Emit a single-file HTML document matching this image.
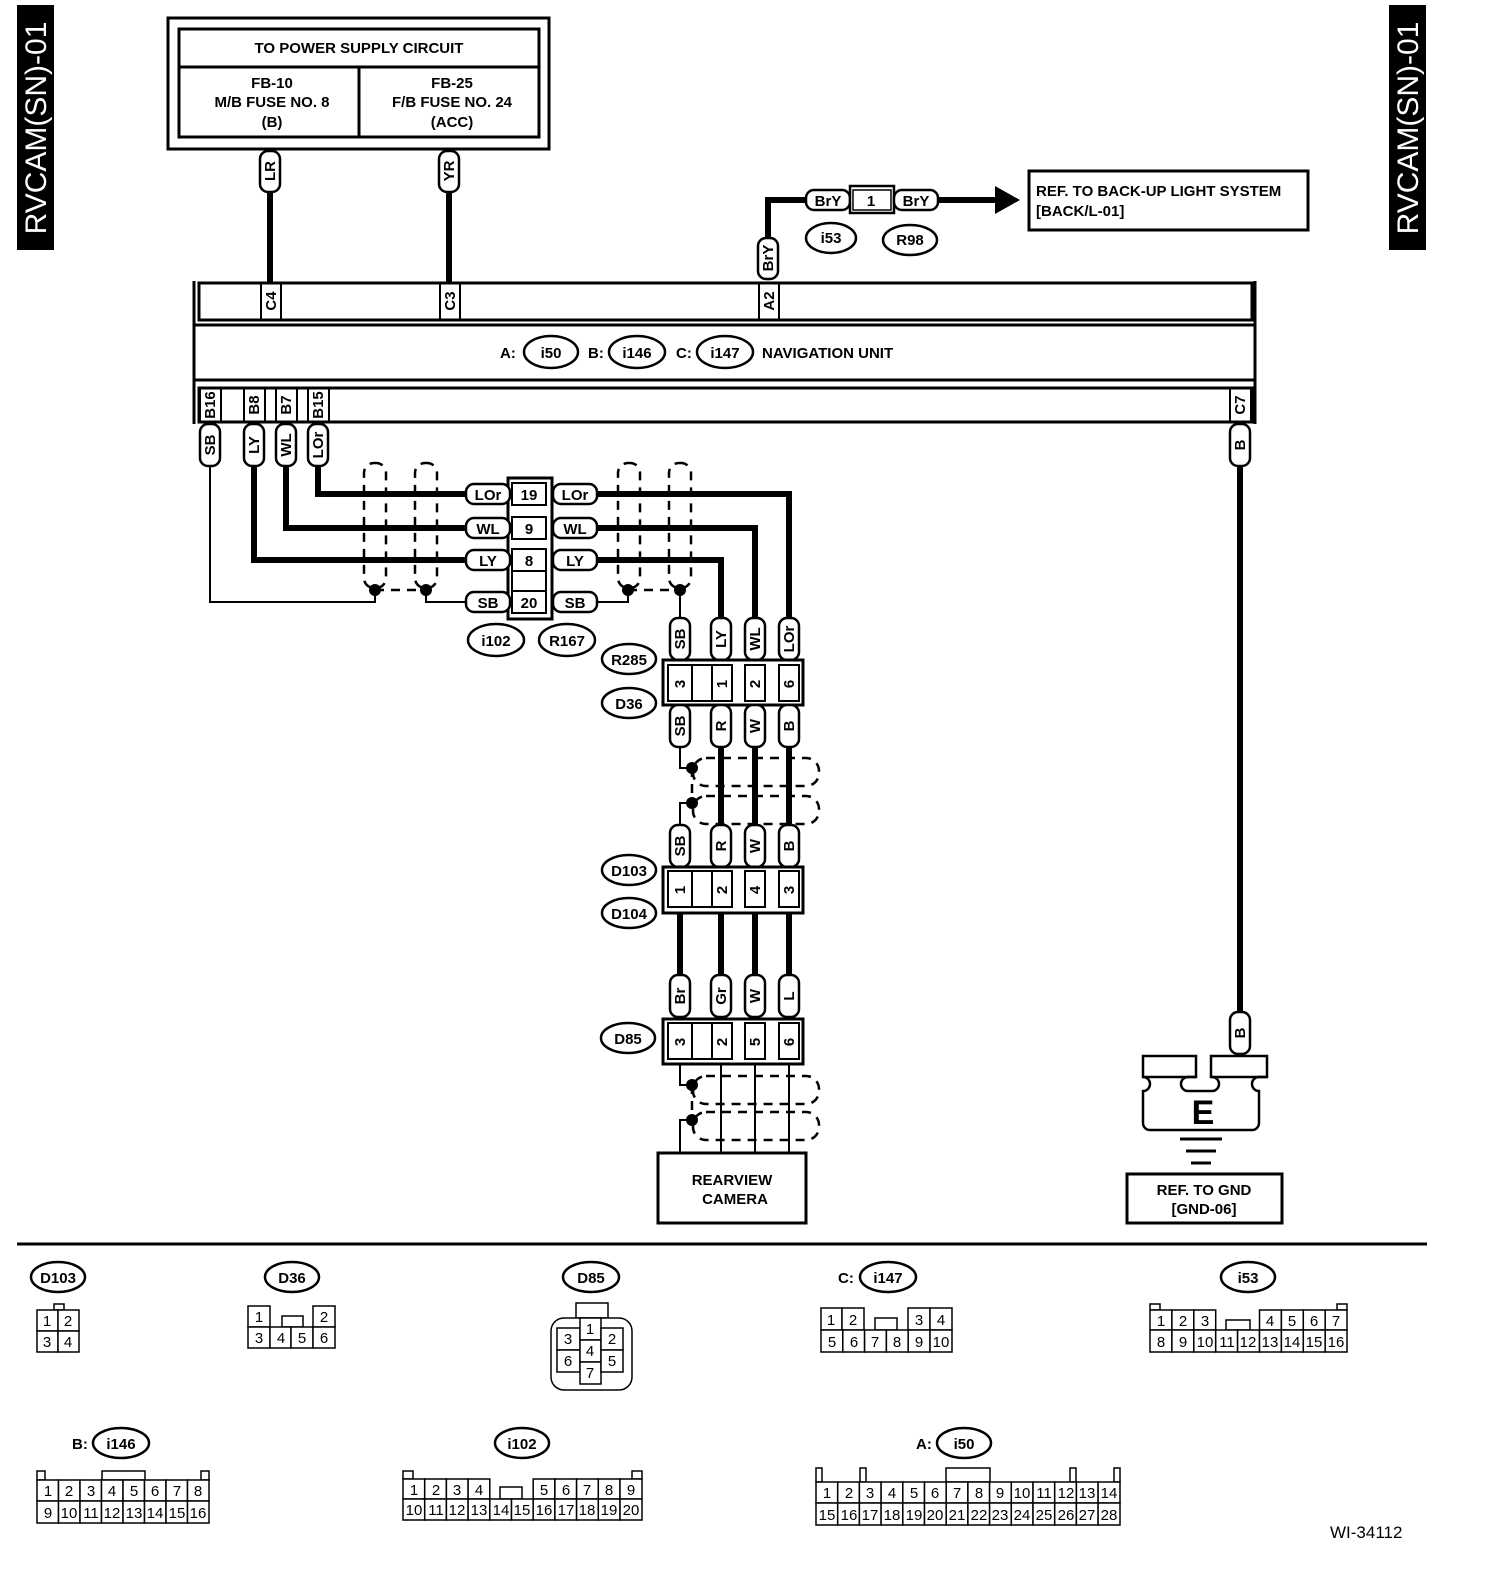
<!DOCTYPE html>
<html><head><meta charset="utf-8"><style>
html,body{margin:0;padding:0;background:#fff;overflow:hidden;width:1504px;height:1586px;}
svg{display:block;}
.t{font-family:"Liberation Sans",sans-serif;font-weight:bold;font-size:15px;fill:#000;}
.n{font-family:"Liberation Sans",sans-serif;font-size:15px;fill:#000;}
.p{fill:#fff;stroke:#000;stroke-width:2.5;}
.b{fill:#fff;stroke:#000;stroke-width:2.5;}
.c{fill:#fff;stroke:#000;stroke-width:1.5;}
.w{stroke:#000;stroke-width:6;fill:none;}
.th{stroke:#000;stroke-width:2;fill:none;}
.d{stroke:#000;stroke-width:2.5;fill:none;stroke-dasharray:9 7;}
</style></head><body>
<svg width="1504" height="1586" viewBox="0 0 1504 1586" xmlns="http://www.w3.org/2000/svg">
<rect x="17" y="5" width="37" height="245" fill="#000"/>
<text transform="translate(46,128) rotate(-90)" text-anchor="middle" style="font-family:'Liberation Sans',sans-serif;font-size:30px;fill:#fff">RVCAM(SN)-01</text>
<rect x="1389" y="5" width="37" height="245" fill="#000"/>
<text transform="translate(1418,128) rotate(-90)" text-anchor="middle" style="font-family:'Liberation Sans',sans-serif;font-size:30px;fill:#fff">RVCAM(SN)-01</text>

<rect x="168" y="18" width="381" height="131" fill="none" stroke="#000" stroke-width="3"/>
<rect x="179" y="29" width="360" height="108" fill="none" stroke="#000" stroke-width="3"/>
<line x1="179" y1="67" x2="539" y2="67" stroke="#000" stroke-width="3"/>
<line x1="359" y1="67" x2="359" y2="137" stroke="#000" stroke-width="3"/>
<text class="t" x="359" y="53" text-anchor="middle">TO POWER SUPPLY CIRCUIT</text>
<text class="t" x="272" y="88" text-anchor="middle">FB-10</text>
<text class="t" x="272" y="107" text-anchor="middle">M/B FUSE NO. 8</text>
<text class="t" x="272" y="127" text-anchor="middle">(B)</text>
<text class="t" x="452" y="88" text-anchor="middle">FB-25</text>
<text class="t" x="452" y="107" text-anchor="middle">F/B FUSE NO. 24</text>
<text class="t" x="452" y="127" text-anchor="middle">(ACC)</text>

<line class="w" x1="270" y1="190" x2="270" y2="283"/>
<line class="w" x1="449" y1="190" x2="449" y2="283"/>
<rect class="p" x="260" y="151" width="20" height="41" rx="8"/>
<text class="t" transform="translate(270,171) rotate(-90)" text-anchor="middle" dy="5">LR</text>
<rect class="p" x="439" y="151" width="20" height="41" rx="8"/>
<text class="t" transform="translate(449,171) rotate(-90)" text-anchor="middle" dy="5">YR</text>

<polyline class="w" points="768,240 768,200 808,200"/>
<line class="w" x1="936" y1="200" x2="997" y2="200"/>
<polygon points="995,186 1020,200 995,214" fill="#000"/>
<rect class="p" x="806" y="190" width="44" height="20" rx="8"/>
<text class="t" x="828" y="206" text-anchor="middle">BrY</text>
<rect x="850" y="186" width="44" height="27" fill="#fff" stroke="#000" stroke-width="2.5"/>
<rect x="853" y="190" width="38" height="20" fill="#fff" stroke="#000" stroke-width="1.5"/>
<text class="t" x="871" y="206" text-anchor="middle">1</text>
<rect class="p" x="894" y="190" width="44" height="20" rx="8"/>
<text class="t" x="916" y="206" text-anchor="middle">BrY</text>
<ellipse class="b" cx="831" cy="238" rx="25" ry="15"/>
<text class="t" x="831" y="243" text-anchor="middle">i53</text>
<ellipse class="b" cx="910" cy="240" rx="27" ry="15"/>
<text class="t" x="910" y="245" text-anchor="middle">R98</text>
<rect class="p" x="758" y="238" width="20" height="41" rx="8"/>
<text class="t" transform="translate(768,258) rotate(-90)" text-anchor="middle" dy="5">BrY</text>
<rect x="1029" y="171" width="279" height="59" fill="none" stroke="#000" stroke-width="3"/>
<text class="t" x="1036" y="196">REF. TO BACK-UP LIGHT SYSTEM</text>
<text class="t" x="1036" y="216">[BACK/L-01]</text>

<line x1="194" y1="281" x2="194" y2="424" stroke="#000" stroke-width="3"/>
<line x1="1255" y1="281" x2="1255" y2="424" stroke="#000" stroke-width="3"/>
<rect x="199" y="283" width="1053" height="37" fill="none" stroke="#000" stroke-width="3"/>
<line x1="194" y1="325" x2="1255" y2="325" stroke="#000" stroke-width="3"/>
<line x1="194" y1="380" x2="1255" y2="380" stroke="#000" stroke-width="3"/>
<rect x="199" y="388" width="1053" height="34" fill="none" stroke="#000" stroke-width="3"/>
<g fill="none" stroke="#000" stroke-width="2">
<rect x="261" y="283" width="20" height="37"/><rect x="440" y="283" width="20" height="37"/><rect x="759" y="283" width="20" height="37"/>
<rect x="200" y="388" width="21" height="34"/><rect x="244" y="388" width="21" height="34"/><rect x="276" y="388" width="21" height="34"/><rect x="308" y="388" width="21" height="34"/><rect x="1230" y="388" width="21" height="34"/>
</g>
<text class="t" transform="translate(271,301) rotate(-90)" text-anchor="middle" dy="5">C4</text>
<text class="t" transform="translate(450,301) rotate(-90)" text-anchor="middle" dy="5">C3</text>
<text class="t" transform="translate(769,301) rotate(-90)" text-anchor="middle" dy="5">A2</text>
<text class="t" transform="translate(210,405) rotate(-90)" text-anchor="middle" dy="5">B16</text>
<text class="t" transform="translate(254,405) rotate(-90)" text-anchor="middle" dy="5">B8</text>
<text class="t" transform="translate(286,405) rotate(-90)" text-anchor="middle" dy="5">B7</text>
<text class="t" transform="translate(318,405) rotate(-90)" text-anchor="middle" dy="5">B15</text>
<text class="t" transform="translate(1240,405) rotate(-90)" text-anchor="middle" dy="5">C7</text>
<text class="t" x="500" y="358">A:</text>
<ellipse class="b" cx="551" cy="352" rx="27" ry="16"/><text class="t" x="551" y="358" text-anchor="middle">i50</text>
<text class="t" x="588" y="358">B:</text>
<ellipse class="b" cx="637" cy="352" rx="28" ry="16"/><text class="t" x="637" y="358" text-anchor="middle">i146</text>
<text class="t" x="676" y="358">C:</text>
<ellipse class="b" cx="725" cy="352" rx="28" ry="16"/><text class="t" x="725" y="358" text-anchor="middle">i147</text>
<text class="t" x="762" y="358">NAVIGATION UNIT</text>

<polyline class="w" points="318,462 318,494 467,494"/>
<polyline class="w" points="286,462 286,528 467,528"/>
<polyline class="w" points="254,462 254,560 467,560"/>
<polyline class="th" points="210,462 210,602 375,602 375,590"/>
<polyline class="th" points="426,590 426,602 467,602"/>
<line class="d" x1="375" y1="590" x2="426" y2="590"/>
<circle cx="375" cy="590" r="6"/><circle cx="426" cy="590" r="6"/>
<rect class="d" x="364" y="463" width="22" height="125" rx="10"/>
<rect class="d" x="415" y="463" width="22" height="125" rx="10"/>

<rect class="p" x="200" y="424" width="20" height="42" rx="8"/><text class="t" transform="translate(210,445) rotate(-90)" text-anchor="middle" dy="5">SB</text>
<rect class="p" x="244" y="424" width="20" height="42" rx="8"/><text class="t" transform="translate(254,445) rotate(-90)" text-anchor="middle" dy="5">LY</text>
<rect class="p" x="276" y="424" width="20" height="42" rx="8"/><text class="t" transform="translate(286,445) rotate(-90)" text-anchor="middle" dy="5">WL</text>
<rect class="p" x="308" y="424" width="20" height="42" rx="8"/><text class="t" transform="translate(318,445) rotate(-90)" text-anchor="middle" dy="5">LOr</text>

<rect x="508" y="478" width="44" height="141" fill="#fff" stroke="#000" stroke-width="3"/>
<g fill="none" stroke="#000" stroke-width="2">
<rect x="512" y="483" width="34" height="22"/><rect x="512" y="517" width="34" height="22"/><rect x="512" y="549" width="34" height="22"/><rect x="512" y="571" width="34" height="20"/><rect x="512" y="591" width="34" height="22"/>
</g>
<text class="t" x="529" y="500" text-anchor="middle">19</text>
<text class="t" x="529" y="534" text-anchor="middle">9</text>
<text class="t" x="529" y="566" text-anchor="middle">8</text>
<text class="t" x="529" y="608" text-anchor="middle">20</text>
<rect class="p" x="466" y="484" width="44" height="20" rx="8"/><text class="t" x="488" y="500" text-anchor="middle">LOr</text>
<rect class="p" x="466" y="518" width="44" height="20" rx="8"/><text class="t" x="488" y="534" text-anchor="middle">WL</text>
<rect class="p" x="466" y="550" width="44" height="20" rx="8"/><text class="t" x="488" y="566" text-anchor="middle">LY</text>
<rect class="p" x="466" y="592" width="44" height="20" rx="8"/><text class="t" x="488" y="608" text-anchor="middle">SB</text>
<rect class="p" x="553" y="484" width="44" height="20" rx="8"/><text class="t" x="575" y="500" text-anchor="middle">LOr</text>
<rect class="p" x="553" y="518" width="44" height="20" rx="8"/><text class="t" x="575" y="534" text-anchor="middle">WL</text>
<rect class="p" x="553" y="550" width="44" height="20" rx="8"/><text class="t" x="575" y="566" text-anchor="middle">LY</text>
<rect class="p" x="553" y="592" width="44" height="20" rx="8"/><text class="t" x="575" y="608" text-anchor="middle">SB</text>
<ellipse class="b" cx="496" cy="640" rx="28" ry="16"/><text class="t" x="496" y="646" text-anchor="middle">i102</text>
<ellipse class="b" cx="567" cy="640" rx="28" ry="16"/><text class="t" x="567" y="646" text-anchor="middle">R167</text>

<polyline class="w" points="597,494 789,494 789,620"/>
<polyline class="w" points="597,528 755,528 755,620"/>
<polyline class="w" points="597,560 721,560 721,620"/>
<polyline class="th" points="597,602 628,602 628,590"/>
<polyline class="th" points="680,590 680,620"/>
<line class="d" x1="628" y1="590" x2="680" y2="590"/>
<circle cx="628" cy="590" r="6"/><circle cx="680" cy="590" r="6"/>
<rect class="d" x="618" y="463" width="22" height="125" rx="10"/>
<rect class="d" x="669" y="463" width="22" height="125" rx="10"/>

<rect class="p" x="670" y="618" width="20" height="42" rx="8"/><text class="t" transform="translate(680,639) rotate(-90)" text-anchor="middle" dy="5">SB</text>
<rect class="p" x="711" y="618" width="20" height="42" rx="8"/><text class="t" transform="translate(721,639) rotate(-90)" text-anchor="middle" dy="5">LY</text>
<rect class="p" x="745" y="618" width="20" height="42" rx="8"/><text class="t" transform="translate(755,639) rotate(-90)" text-anchor="middle" dy="5">WL</text>
<rect class="p" x="779" y="618" width="20" height="42" rx="8"/><text class="t" transform="translate(789,639) rotate(-90)" text-anchor="middle" dy="5">LOr</text>

<rect x="663" y="660" width="140" height="45" fill="#fff" stroke="#000" stroke-width="3"/>
<g fill="none" stroke="#000" stroke-width="2">
<rect x="668" y="665" width="24" height="36"/><rect x="692" y="665" width="20" height="36"/><rect x="712" y="665" width="20" height="36"/><rect x="745" y="665" width="20" height="36"/><rect x="779" y="665" width="20" height="36"/>
</g>
<text class="t" transform="translate(680,684) rotate(-90)" text-anchor="middle" dy="5">3</text>
<text class="t" transform="translate(722,684) rotate(-90)" text-anchor="middle" dy="5">1</text>
<text class="t" transform="translate(755,684) rotate(-90)" text-anchor="middle" dy="5">2</text>
<text class="t" transform="translate(789,684) rotate(-90)" text-anchor="middle" dy="5">6</text>
<ellipse class="b" cx="629" cy="659" rx="27" ry="15"/><text class="t" x="629" y="665" text-anchor="middle">R285</text>
<ellipse class="b" cx="629" cy="703" rx="27" ry="15"/><text class="t" x="629" y="709" text-anchor="middle">D36</text>

<line class="w" x1="721" y1="745" x2="721" y2="826"/>
<line class="w" x1="755" y1="745" x2="755" y2="826"/>
<line class="w" x1="789" y1="745" x2="789" y2="826"/>
<polyline class="th" points="680,745 680,768 692,768"/>
<polyline class="th" points="692,803 680,803 680,826"/>
<line class="d" x1="692" y1="768" x2="692" y2="803"/>
<circle cx="692" cy="768" r="6"/><circle cx="692" cy="803" r="6"/>
<rect class="d" x="693" y="758" width="126" height="28" rx="13"/>
<rect class="d" x="693" y="796" width="126" height="28" rx="13"/>
<rect class="p" x="670" y="705" width="20" height="42" rx="8"/><text class="t" transform="translate(680,726) rotate(-90)" text-anchor="middle" dy="5">SB</text>
<rect class="p" x="711" y="705" width="20" height="42" rx="8"/><text class="t" transform="translate(721,726) rotate(-90)" text-anchor="middle" dy="5">R</text>
<rect class="p" x="745" y="705" width="20" height="42" rx="8"/><text class="t" transform="translate(755,726) rotate(-90)" text-anchor="middle" dy="5">W</text>
<rect class="p" x="779" y="705" width="20" height="42" rx="8"/><text class="t" transform="translate(789,726) rotate(-90)" text-anchor="middle" dy="5">B</text>
<rect class="p" x="670" y="825" width="20" height="42" rx="8"/><text class="t" transform="translate(680,846) rotate(-90)" text-anchor="middle" dy="5">SB</text>
<rect class="p" x="711" y="825" width="20" height="42" rx="8"/><text class="t" transform="translate(721,846) rotate(-90)" text-anchor="middle" dy="5">R</text>
<rect class="p" x="745" y="825" width="20" height="42" rx="8"/><text class="t" transform="translate(755,846) rotate(-90)" text-anchor="middle" dy="5">W</text>
<rect class="p" x="779" y="825" width="20" height="42" rx="8"/><text class="t" transform="translate(789,846) rotate(-90)" text-anchor="middle" dy="5">B</text>

<rect x="663" y="867" width="140" height="46" fill="#fff" stroke="#000" stroke-width="3"/>
<g fill="none" stroke="#000" stroke-width="2">
<rect x="668" y="871" width="24" height="36"/><rect x="692" y="871" width="20" height="36"/><rect x="712" y="871" width="20" height="36"/><rect x="745" y="871" width="20" height="36"/><rect x="779" y="871" width="20" height="36"/>
</g>
<text class="t" transform="translate(680,890) rotate(-90)" text-anchor="middle" dy="5">1</text>
<text class="t" transform="translate(722,890) rotate(-90)" text-anchor="middle" dy="5">2</text>
<text class="t" transform="translate(755,890) rotate(-90)" text-anchor="middle" dy="5">4</text>
<text class="t" transform="translate(789,890) rotate(-90)" text-anchor="middle" dy="5">3</text>
<ellipse class="b" cx="629" cy="870" rx="27" ry="15"/><text class="t" x="629" y="876" text-anchor="middle">D103</text>
<ellipse class="b" cx="629" cy="913" rx="27" ry="15"/><text class="t" x="629" y="919" text-anchor="middle">D104</text>

<line class="w" x1="680" y1="913" x2="680" y2="977"/>
<line class="w" x1="721" y1="913" x2="721" y2="977"/>
<line class="w" x1="755" y1="913" x2="755" y2="977"/>
<line class="w" x1="789" y1="913" x2="789" y2="977"/>
<rect class="p" x="670" y="975" width="20" height="42" rx="8"/><text class="t" transform="translate(680,996) rotate(-90)" text-anchor="middle" dy="5">Br</text>
<rect class="p" x="711" y="975" width="20" height="42" rx="8"/><text class="t" transform="translate(721,996) rotate(-90)" text-anchor="middle" dy="5">Gr</text>
<rect class="p" x="745" y="975" width="20" height="42" rx="8"/><text class="t" transform="translate(755,996) rotate(-90)" text-anchor="middle" dy="5">W</text>
<rect class="p" x="779" y="975" width="20" height="42" rx="8"/><text class="t" transform="translate(789,996) rotate(-90)" text-anchor="middle" dy="5">L</text>

<rect x="663" y="1019" width="140" height="45" fill="#fff" stroke="#000" stroke-width="3"/>
<g fill="none" stroke="#000" stroke-width="2">
<rect x="668" y="1023" width="24" height="36"/><rect x="692" y="1023" width="20" height="36"/><rect x="712" y="1023" width="20" height="36"/><rect x="745" y="1023" width="20" height="36"/><rect x="779" y="1023" width="20" height="36"/>
</g>
<text class="t" transform="translate(680,1042) rotate(-90)" text-anchor="middle" dy="5">3</text>
<text class="t" transform="translate(722,1042) rotate(-90)" text-anchor="middle" dy="5">2</text>
<text class="t" transform="translate(755,1042) rotate(-90)" text-anchor="middle" dy="5">5</text>
<text class="t" transform="translate(789,1042) rotate(-90)" text-anchor="middle" dy="5">6</text>
<ellipse class="b" cx="628" cy="1038" rx="27" ry="15"/><text class="t" x="628" y="1044" text-anchor="middle">D85</text>

<line class="th" x1="721" y1="1064" x2="721" y2="1152"/>
<line class="th" x1="755" y1="1064" x2="755" y2="1152"/>
<line class="th" x1="789" y1="1064" x2="789" y2="1152"/>
<polyline class="th" points="680,1064 680,1085 692,1085"/>
<polyline class="th" points="692,1120 680,1120 680,1152"/>
<line class="d" x1="692" y1="1085" x2="692" y2="1120"/>
<circle cx="692" cy="1085" r="6"/><circle cx="692" cy="1120" r="6"/>
<rect class="d" x="693" y="1076" width="126" height="28" rx="13"/>
<rect class="d" x="693" y="1112" width="126" height="28" rx="13"/>
<rect x="658" y="1153" width="148" height="70" fill="#fff" stroke="#000" stroke-width="3"/>
<text class="t" x="732" y="1185" text-anchor="middle">REARVIEW</text>
<text class="t" x="735" y="1204" text-anchor="middle">CAMERA</text>

<line class="w" x1="1240" y1="462" x2="1240" y2="1014"/>
<rect class="p" x="1230" y="424" width="20" height="42" rx="8"/><text class="t" transform="translate(1240,445) rotate(-90)" text-anchor="middle" dy="5">B</text>
<rect class="p" x="1230" y="1012" width="20" height="42" rx="8"/><text class="t" transform="translate(1240,1033) rotate(-90)" text-anchor="middle" dy="5">B</text>
<path d="M1143,1056 H1196 V1077 H1188 a7,7 0 0 0 0,14 H1212 a7,7 0 0 0 0,-14 H1212 V1077 H1211 V1056 H1267 V1077 H1259 a7,7 0 0 0 0,14 V1123 a7,7 0 0 1 -7,7 H1150 a7,7 0 0 1 -7,-7 V1091 a7,7 0 0 0 0,-14 Z" fill="#fff" stroke="#000" stroke-width="2.5"/>
<line x1="1143" y1="1077" x2="1196" y2="1077" stroke="#000" stroke-width="2.5"/>
<line x1="1211" y1="1077" x2="1267" y2="1077" stroke="#000" stroke-width="2.5"/>
<text x="1203" y="1124" text-anchor="middle" style="font-family:'Liberation Sans',sans-serif;font-weight:bold;font-size:34px">E</text>
<line x1="1180" y1="1139" x2="1222" y2="1139" stroke="#000" stroke-width="3"/>
<line x1="1186" y1="1151" x2="1216" y2="1151" stroke="#000" stroke-width="3"/>
<line x1="1191" y1="1163" x2="1211" y2="1163" stroke="#000" stroke-width="3"/>
<rect x="1127" y="1174" width="155" height="49" fill="#fff" stroke="#000" stroke-width="3"/>
<text class="t" x="1204" y="1195" text-anchor="middle">REF. TO GND</text>
<text class="t" x="1204" y="1214" text-anchor="middle">[GND-06]</text>

<line x1="17" y1="1244" x2="1427" y2="1244" stroke="#000" stroke-width="3"/>

<ellipse class="b" cx="58" cy="1277" rx="27" ry="15"/><text class="t" x="58" y="1283" text-anchor="middle">D103</text>
<rect class="c" x="54" y="1304" width="10" height="6"/>
<rect class="c" x="37" y="1310" width="21" height="21"/><rect class="c" x="58" y="1310" width="21" height="21"/><rect class="c" x="37" y="1331" width="21" height="21"/><rect class="c" x="58" y="1331" width="21" height="21"/>
<text class="n" x="47" y="1326" text-anchor="middle">1</text><text class="n" x="68" y="1326" text-anchor="middle">2</text><text class="n" x="47" y="1347" text-anchor="middle">3</text><text class="n" x="68" y="1347" text-anchor="middle">4</text>

<ellipse class="b" cx="292" cy="1277" rx="27" ry="15"/><text class="t" x="292" y="1283" text-anchor="middle">D36</text>
<rect class="c" x="248" y="1306" width="22" height="21"/><rect class="c" x="313" y="1306" width="22" height="21"/>
<rect class="c" x="282" y="1316" width="21" height="11"/>
<rect class="c" x="248" y="1327" width="22" height="21"/><rect class="c" x="270" y="1327" width="21" height="21"/><rect class="c" x="291" y="1327" width="22" height="21"/><rect class="c" x="313" y="1327" width="22" height="21"/>
<text class="n" x="259" y="1322" text-anchor="middle">1</text><text class="n" x="324" y="1322" text-anchor="middle">2</text>
<text class="n" x="259" y="1343" text-anchor="middle">3</text><text class="n" x="281" y="1343" text-anchor="middle">4</text><text class="n" x="302" y="1343" text-anchor="middle">5</text><text class="n" x="324" y="1343" text-anchor="middle">6</text>

<ellipse class="b" cx="591" cy="1277" rx="28" ry="15"/><text class="t" x="591" y="1283" text-anchor="middle">D85</text>
<rect class="c" x="576" y="1303" width="32" height="15"/>
<rect class="c" x="551" y="1318" width="81" height="72" rx="13"/>
<rect class="c" x="557" y="1328" width="23" height="22"/><rect class="c" x="557" y="1350" width="23" height="22"/>
<rect class="c" x="580" y="1318" width="21" height="22"/><rect class="c" x="580" y="1340" width="21" height="22"/><rect class="c" x="580" y="1362" width="21" height="22"/>
<rect class="c" x="601" y="1328" width="22" height="22"/><rect class="c" x="601" y="1350" width="22" height="22"/>
<text class="n" x="568" y="1344" text-anchor="middle">3</text><text class="n" x="568" y="1366" text-anchor="middle">6</text>
<text class="n" x="590" y="1334" text-anchor="middle">1</text><text class="n" x="590" y="1356" text-anchor="middle">4</text><text class="n" x="590" y="1378" text-anchor="middle">7</text>
<text class="n" x="612" y="1344" text-anchor="middle">2</text><text class="n" x="612" y="1366" text-anchor="middle">5</text>

<text class="t" x="838" y="1283">C:</text>
<ellipse class="b" cx="888" cy="1277" rx="28" ry="15"/><text class="t" x="888" y="1283" text-anchor="middle">i147</text>
<rect class="c" x="821" y="1308" width="21" height="22"/><rect class="c" x="842" y="1308" width="22" height="22"/>
<rect class="c" x="908" y="1308" width="22" height="22"/><rect class="c" x="930" y="1308" width="22" height="22"/>
<rect class="c" x="875" y="1318" width="22" height="12"/>
<rect class="c" x="821" y="1330" width="21.8" height="22"/><rect class="c" x="842.8" y="1330" width="21.8" height="22"/><rect class="c" x="864.6" y="1330" width="21.8" height="22"/><rect class="c" x="886.4" y="1330" width="21.8" height="22"/><rect class="c" x="908.2" y="1330" width="21.8" height="22"/><rect class="c" x="930" y="1330" width="22" height="22"/>
<text class="n" x="831" y="1325" text-anchor="middle">1</text><text class="n" x="853" y="1325" text-anchor="middle">2</text><text class="n" x="919" y="1325" text-anchor="middle">3</text><text class="n" x="941" y="1325" text-anchor="middle">4</text>
<text class="n" x="832" y="1347" text-anchor="middle">5</text><text class="n" x="854" y="1347" text-anchor="middle">6</text><text class="n" x="875" y="1347" text-anchor="middle">7</text><text class="n" x="897" y="1347" text-anchor="middle">8</text><text class="n" x="919" y="1347" text-anchor="middle">9</text><text class="n" x="941" y="1347" text-anchor="middle">10</text>

<ellipse class="b" cx="1248" cy="1277" rx="27" ry="15"/><text class="t" x="1248" y="1283" text-anchor="middle">i53</text>
<rect class="c" x="1150" y="1304" width="10" height="6"/><rect class="c" x="1337" y="1304" width="10" height="6"/>
<rect class="c" x="1226" y="1320" width="24" height="10"/>
<rect class="c" x="1150" y="1310" width="21.9" height="20"/><rect class="c" x="1171.9" y="1310" width="21.9" height="20"/><rect class="c" x="1193.8" y="1310" width="21.9" height="20"/>
<rect class="c" x="1259.5" y="1310" width="21.9" height="20"/><rect class="c" x="1281.4" y="1310" width="21.9" height="20"/><rect class="c" x="1303.3" y="1310" width="21.9" height="20"/><rect class="c" x="1325.2" y="1310" width="21.8" height="20"/>
<rect class="c" x="1150" y="1330" width="21.9" height="22"/><rect class="c" x="1171.9" y="1330" width="21.9" height="22"/><rect class="c" x="1193.8" y="1330" width="21.9" height="22"/><rect class="c" x="1215.7" y="1330" width="21.9" height="22"/><rect class="c" x="1237.6" y="1330" width="21.9" height="22"/><rect class="c" x="1259.5" y="1330" width="21.9" height="22"/><rect class="c" x="1281.4" y="1330" width="21.9" height="22"/><rect class="c" x="1303.3" y="1330" width="21.9" height="22"/><rect class="c" x="1325.2" y="1330" width="21.8" height="22"/>
<g text-anchor="middle">
<text class="n" x="1161" y="1326">1</text><text class="n" x="1183" y="1326">2</text><text class="n" x="1205" y="1326">3</text><text class="n" x="1270" y="1326">4</text><text class="n" x="1292" y="1326">5</text><text class="n" x="1314" y="1326">6</text><text class="n" x="1336" y="1326">7</text>
<text class="n" x="1161" y="1347">8</text><text class="n" x="1183" y="1347">9</text><text class="n" x="1205" y="1347">10</text><text class="n" x="1227" y="1347">11</text><text class="n" x="1248" y="1347">12</text><text class="n" x="1270" y="1347">13</text><text class="n" x="1292" y="1347">14</text><text class="n" x="1314" y="1347">15</text><text class="n" x="1336" y="1347">16</text>
</g>

<text class="t" x="72" y="1449">B:</text>
<ellipse class="b" cx="121" cy="1443" rx="28" ry="15"/><text class="t" x="121" y="1449" text-anchor="middle">i146</text>
<rect class="c" x="37" y="1471" width="8" height="9"/><rect class="c" x="201" y="1471" width="8" height="9"/><rect class="c" x="102" y="1471" width="43" height="9"/>
<rect class="c" x="37" y="1480" width="21.5" height="21"/><rect class="c" x="58.5" y="1480" width="21.5" height="21"/><rect class="c" x="80" y="1480" width="21.5" height="21"/><rect class="c" x="101.5" y="1480" width="21.5" height="21"/><rect class="c" x="123" y="1480" width="21.5" height="21"/><rect class="c" x="144.5" y="1480" width="21.5" height="21"/><rect class="c" x="166" y="1480" width="21.5" height="21"/><rect class="c" x="187.5" y="1480" width="21.5" height="21"/>
<rect class="c" x="37" y="1501" width="21.5" height="22"/><rect class="c" x="58.5" y="1501" width="21.5" height="22"/><rect class="c" x="80" y="1501" width="21.5" height="22"/><rect class="c" x="101.5" y="1501" width="21.5" height="22"/><rect class="c" x="123" y="1501" width="21.5" height="22"/><rect class="c" x="144.5" y="1501" width="21.5" height="22"/><rect class="c" x="166" y="1501" width="21.5" height="22"/><rect class="c" x="187.5" y="1501" width="21.5" height="22"/>
<g text-anchor="middle">
<text class="n" x="48" y="1496">1</text><text class="n" x="69" y="1496">2</text><text class="n" x="91" y="1496">3</text><text class="n" x="112" y="1496">4</text><text class="n" x="134" y="1496">5</text><text class="n" x="155" y="1496">6</text><text class="n" x="177" y="1496">7</text><text class="n" x="198" y="1496">8</text>
<text class="n" x="48" y="1518">9</text><text class="n" x="69" y="1518">10</text><text class="n" x="91" y="1518">11</text><text class="n" x="112" y="1518">12</text><text class="n" x="134" y="1518">13</text><text class="n" x="155" y="1518">14</text><text class="n" x="177" y="1518">15</text><text class="n" x="198" y="1518">16</text>
</g>

<ellipse class="b" cx="522" cy="1443" rx="27" ry="15"/><text class="t" x="522" y="1449" text-anchor="middle">i102</text>
<rect class="c" x="403" y="1471" width="10" height="8"/><rect class="c" x="632" y="1471" width="10" height="8"/>
<rect class="c" x="500" y="1487" width="22" height="12"/>
<rect class="c" x="403" y="1479" width="21.7" height="20"/><rect class="c" x="424.7" y="1479" width="21.7" height="20"/><rect class="c" x="446.4" y="1479" width="21.7" height="20"/><rect class="c" x="468.1" y="1479" width="21.7" height="20"/>
<rect class="c" x="533.2" y="1479" width="21.7" height="20"/><rect class="c" x="554.9" y="1479" width="21.7" height="20"/><rect class="c" x="576.6" y="1479" width="21.7" height="20"/><rect class="c" x="598.3" y="1479" width="21.7" height="20"/><rect class="c" x="620" y="1479" width="22" height="20"/>
<rect class="c" x="403" y="1499" width="21.7" height="21"/><rect class="c" x="424.7" y="1499" width="21.7" height="21"/><rect class="c" x="446.4" y="1499" width="21.7" height="21"/><rect class="c" x="468.1" y="1499" width="21.7" height="21"/><rect class="c" x="489.8" y="1499" width="21.7" height="21"/><rect class="c" x="511.5" y="1499" width="21.7" height="21"/><rect class="c" x="533.2" y="1499" width="21.7" height="21"/><rect class="c" x="554.9" y="1499" width="21.7" height="21"/><rect class="c" x="576.6" y="1499" width="21.7" height="21"/><rect class="c" x="598.3" y="1499" width="21.7" height="21"/><rect class="c" x="620" y="1499" width="22" height="21"/>
<g text-anchor="middle">
<text class="n" x="414" y="1495">1</text><text class="n" x="436" y="1495">2</text><text class="n" x="457" y="1495">3</text><text class="n" x="479" y="1495">4</text><text class="n" x="544" y="1495">5</text><text class="n" x="566" y="1495">6</text><text class="n" x="587" y="1495">7</text><text class="n" x="609" y="1495">8</text><text class="n" x="631" y="1495">9</text>
<text class="n" x="414" y="1515">10</text><text class="n" x="436" y="1515">11</text><text class="n" x="457" y="1515">12</text><text class="n" x="479" y="1515">13</text><text class="n" x="501" y="1515">14</text><text class="n" x="522" y="1515">15</text><text class="n" x="544" y="1515">16</text><text class="n" x="566" y="1515">17</text><text class="n" x="587" y="1515">18</text><text class="n" x="609" y="1515">19</text><text class="n" x="631" y="1515">20</text>
</g>

<text class="t" x="916" y="1449">A:</text>
<ellipse class="b" cx="964" cy="1443" rx="27" ry="15"/><text class="t" x="964" y="1449" text-anchor="middle">i50</text>
<rect class="c" x="816" y="1468" width="6" height="14"/><rect class="c" x="860" y="1468" width="6" height="14"/><rect class="c" x="1070" y="1468" width="6" height="14"/><rect class="c" x="1114" y="1468" width="6" height="14"/>
<rect class="c" x="946" y="1468" width="44" height="14"/>
<rect class="c" x="816" y="1482" width="21.7" height="21"/><rect class="c" x="837.7" y="1482" width="21.7" height="21"/><rect class="c" x="859.4" y="1482" width="21.7" height="21"/><rect class="c" x="881.1" y="1482" width="21.7" height="21"/><rect class="c" x="902.8" y="1482" width="21.7" height="21"/><rect class="c" x="924.5" y="1482" width="21.7" height="21"/><rect class="c" x="946.2" y="1482" width="21.7" height="21"/><rect class="c" x="967.9" y="1482" width="21.7" height="21"/><rect class="c" x="989.6" y="1482" width="21.7" height="21"/><rect class="c" x="1011.3" y="1482" width="21.7" height="21"/><rect class="c" x="1033" y="1482" width="21.7" height="21"/><rect class="c" x="1054.7" y="1482" width="21.7" height="21"/><rect class="c" x="1076.4" y="1482" width="21.7" height="21"/><rect class="c" x="1098.1" y="1482" width="21.9" height="21"/>
<rect class="c" x="816" y="1503" width="21.7" height="22"/><rect class="c" x="837.7" y="1503" width="21.7" height="22"/><rect class="c" x="859.4" y="1503" width="21.7" height="22"/><rect class="c" x="881.1" y="1503" width="21.7" height="22"/><rect class="c" x="902.8" y="1503" width="21.7" height="22"/><rect class="c" x="924.5" y="1503" width="21.7" height="22"/><rect class="c" x="946.2" y="1503" width="21.7" height="22"/><rect class="c" x="967.9" y="1503" width="21.7" height="22"/><rect class="c" x="989.6" y="1503" width="21.7" height="22"/><rect class="c" x="1011.3" y="1503" width="21.7" height="22"/><rect class="c" x="1033" y="1503" width="21.7" height="22"/><rect class="c" x="1054.7" y="1503" width="21.7" height="22"/><rect class="c" x="1076.4" y="1503" width="21.7" height="22"/><rect class="c" x="1098.1" y="1503" width="21.9" height="22"/>
<g text-anchor="middle">
<text class="n" x="827" y="1498">1</text><text class="n" x="849" y="1498">2</text><text class="n" x="870" y="1498">3</text><text class="n" x="892" y="1498">4</text><text class="n" x="914" y="1498">5</text><text class="n" x="935" y="1498">6</text><text class="n" x="957" y="1498">7</text><text class="n" x="979" y="1498">8</text><text class="n" x="1000" y="1498">9</text><text class="n" x="1022" y="1498">10</text><text class="n" x="1044" y="1498">11</text><text class="n" x="1066" y="1498">12</text><text class="n" x="1087" y="1498">13</text><text class="n" x="1109" y="1498">14</text>
<text class="n" x="827" y="1520">15</text><text class="n" x="849" y="1520">16</text><text class="n" x="870" y="1520">17</text><text class="n" x="892" y="1520">18</text><text class="n" x="914" y="1520">19</text><text class="n" x="935" y="1520">20</text><text class="n" x="957" y="1520">21</text><text class="n" x="979" y="1520">22</text><text class="n" x="1000" y="1520">23</text><text class="n" x="1022" y="1520">24</text><text class="n" x="1044" y="1520">25</text><text class="n" x="1066" y="1520">26</text><text class="n" x="1087" y="1520">27</text><text class="n" x="1109" y="1520">28</text>
</g>

<text x="1330" y="1538" style="font-family:'Liberation Sans',sans-serif;font-size:17px">WI-34112</text>
</svg>
</body></html>
